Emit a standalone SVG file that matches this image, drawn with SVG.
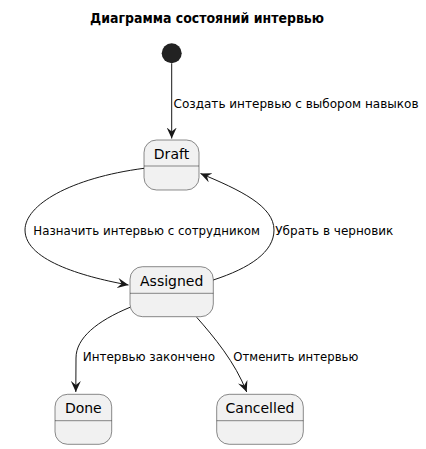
<svg xmlns="http://www.w3.org/2000/svg" width="426" height="449" viewBox="0 0 426 449">
<style>
.st{fill:#F1F1F1;stroke:#181818;stroke-width:0.5}
.dv{stroke:#181818;stroke-width:0.5}
.nm{font-family:"DejaVu Sans",sans-serif;font-size:14px;fill:#000;text-anchor:middle}
.lb{font-family:"DejaVu Sans",sans-serif;font-size:13px;fill:#000}
.ti{font-family:"DejaVu Sans",sans-serif;font-size:14px;font-weight:bold;fill:#000;text-anchor:middle}
.ln{fill:none;stroke:#181818;stroke-width:1}
</style>
<defs>
<marker id="ah" markerWidth="12" markerHeight="10" viewBox="0 0 12 10" refX="11" refY="5" orient="auto" markerUnits="userSpaceOnUse">
<polygon points="0,0 11,5 0,10 4,5" fill="#181818"/>
</marker>
</defs>
<text class="ti" x="207" y="23" textLength="234" lengthAdjust="spacingAndGlyphs">Диаграмма состояний интервью</text>
<g id="start">
<circle cx="171.7" cy="53.3" r="10" fill="#222222"/>
</g>
<g id="Draft">
<rect class="st" x="144" y="140" width="55" height="50" rx="12.5"/>
<line class="dv" x1="144" y1="166" x2="199" y2="166"/>
<text class="nm" x="171.5" y="159">Draft</text>
</g>
<g id="Assigned">
<rect class="st" x="130" y="266.7" width="83.3" height="50" rx="12.5"/>
<line class="dv" x1="130" y1="293.3" x2="213.3" y2="293.3"/>
<text class="nm" x="171.7" y="286">Assigned</text>
</g>
<g id="Done">
<rect class="st" x="55" y="394.3" width="56.7" height="50" rx="12.5"/>
<line class="dv" x1="55" y1="420.7" x2="111.7" y2="420.7"/>
<text class="nm" x="83.3" y="413">Done</text>
</g>
<g id="Cancelled">
<rect class="st" x="216.7" y="394.3" width="86.6" height="50" rx="12.5"/>
<line class="dv" x1="216.7" y1="420.7" x2="303.3" y2="420.7"/>
<text class="nm" x="260" y="413">Cancelled</text>
</g>
<g id="connectors">
<path class="ln" d="M171.7,63.3 L171.7,138.5" marker-end="url(#ah)"/>
<path class="ln" d="M144,168.3 C70,178 25,205 25,230 C25,262 90,278 128.5,285" marker-end="url(#ah)"/>
<path class="ln" d="M213.3,280 C250,268 274,252 274,230 C274,206 240,190 200.5,173.5" marker-end="url(#ah)"/>
<path class="ln" d="M130,307.3 C97,321 76,338 76,358 L75.8,392" marker-end="url(#ah)"/>
<path class="ln" d="M196.7,317.3 C214,337 235,362 246.7,392" marker-end="url(#ah)"/>
<text class="lb" x="173.5" y="108" textLength="245" lengthAdjust="spacingAndGlyphs">Создать интервью с выбором навыков</text>
<text class="lb" x="33.3" y="235" textLength="226.7" lengthAdjust="spacingAndGlyphs">Назначить интервью с сотрудником</text>
<text class="lb" x="275.3" y="235" textLength="118" lengthAdjust="spacingAndGlyphs">Убрать в черновик</text>
<text class="lb" x="82.7" y="361" textLength="132.3" lengthAdjust="spacingAndGlyphs">Интервью закончено</text>
<text class="lb" x="233.3" y="361" textLength="125" lengthAdjust="spacingAndGlyphs">Отменить интервью</text>
</g>
</svg>
